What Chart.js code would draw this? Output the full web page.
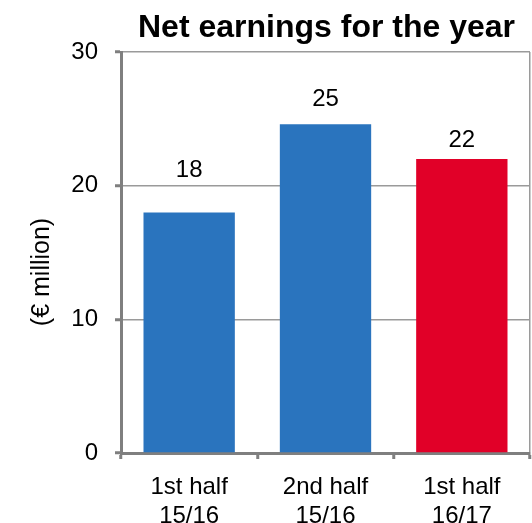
<!DOCTYPE html>
<html>
<head>
<meta charset="utf-8">
<script src="https://cdn.jsdelivr.net/npm/chart.js@4/dist/chart.umd.min.js"></script>
<style>
  html, body { margin: 0; padding: 0; background: #ffffff; }
  #wrap { width: 532px; height: 523px; }
</style>
</head>
<body>
<div id="wrap"><canvas id="c" width="532" height="523"></canvas></div>
<script>
// Net earnings per half-year, in € million
const periods = [['1st half', '15/16'], ['2nd half', '15/16'], ['1st half', '16/17']];
const earnings = [18.0, 24.6, 22.0];
const yTicks = [0, 10, 20, 30];
const chartTitle = 'Net earnings for the year';
const axisTitle = '(€ million)';

const BLUE = '#2a74be';
const RED = '#e10028';
const AXIS = '#7f7f7f';
const FONT = '"Liberation Sans", Arial, sans-serif';

// how far above each bar top its value label sits (px)
const labelLift = [42, 25, 19];

const annotate = {
  id: 'annotate',
  afterDraw(chart) {
    const { ctx, chartArea } = chart;
    ctx.save();
    ctx.fillStyle = '#000';

    // chart title, centred over the plot area
    ctx.font = 'bold 32px ' + FONT;
    ctx.textAlign = 'center';
    ctx.textBaseline = 'alphabetic';
    ctx.fillText(chartTitle, (chartArea.left + chartArea.right) / 2 + 1, 37);

    // y axis title
    ctx.save();
    ctx.translate(42.5, 272);
    ctx.rotate(-Math.PI / 2);
    ctx.font = '25px ' + FONT;
    ctx.textBaseline = 'middle';
    ctx.fillText(axisTitle, 0, 0);
    ctx.restore();

    // value labels above the bars
    ctx.font = '24px ' + FONT;
    ctx.textBaseline = 'middle';
    const meta = chart.getDatasetMeta(0);
    meta.data.forEach((bar, i) => {
      const v = chart.data.datasets[0].data[i];
      ctx.fillText(String(Math.round(v)), bar.x, bar.y - labelLift[i]);
    });
    ctx.restore();
  }
};

new Chart(document.getElementById('c'), {
  type: 'bar',
  data: {
    labels: periods,
    datasets: [{
      data: earnings,
      backgroundColor: [BLUE, BLUE, RED],
      borderWidth: 0,
      categoryPercentage: 1,
      barPercentage: 0.67
    }]
  },
  options: {
    responsive: false,
    animation: false,
    events: [],
    layout: { padding: { top: 52, right: 2, left: 0, bottom: 0 } },
    plugins: {
      legend: { display: false },
      tooltip: { enabled: false },
      title: { display: false }
    },
    scales: {
      x: {
        afterFit(s) { s.height = 70; },
        grid: {
          offset: true,
          // only the closing edge on the right is drawn as a line
          color: c => (c.type === 'tick' ? 'rgba(0,0,0,0)' : '#9a9a9a'),
          lineWidth: 1.5,
          tickColor: AXIS,
          tickWidth: 3,
          tickLength: 6
        },
        border: { color: AXIS, width: 3 },
        ticks: {
          color: '#000',
          font: { family: FONT, size: 24, lineHeight: 1.2 },
          padding: 14,
          maxRotation: 0,
          autoSkip: false
        }
      },
      y: {
        min: yTicks[0],
        max: yTicks[yTicks.length - 1],
        afterFit(s) { s.width = 121; },
        afterBuildTicks(s) { s.ticks = yTicks.map(v => ({ value: v })); },
        grid: {
          color: '#9a9a9a',
          lineWidth: 1.5,
          tickColor: AXIS,
          tickWidth: 3,
          tickLength: 6
        },
        border: { color: AXIS, width: 3 },
        ticks: {
          color: '#000',
          font: { family: FONT, size: 24 },
          padding: 17
        }
      }
    }
  },
  plugins: [annotate]
});
</script>
</body>
</html>
